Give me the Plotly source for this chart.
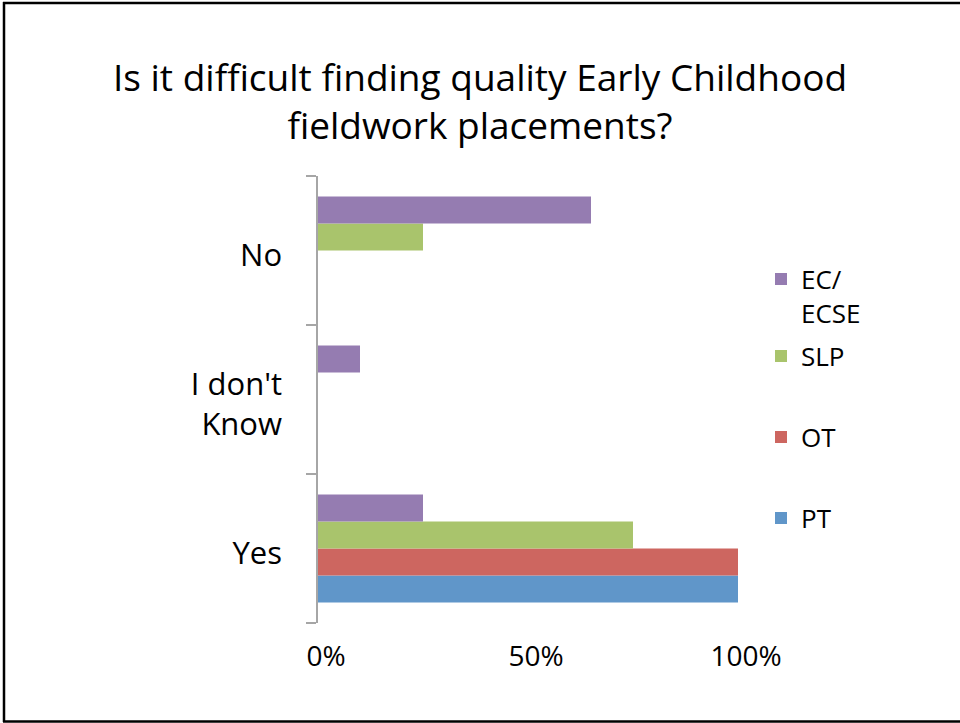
import plotly.graph_objects as go

categories = ["Yes", "I don't Know", "No"]
category_labels = ["Yes", "I don't<br>Know", "No"]
series_names = ["PT", "OT", "SLP", "EC/ECSE"]
legend_labels = ["PT", "OT", "SLP", "EC/<br>ECSE"]
pt_values = [100, 0, 0]
ot_values = [100, 0, 0]
slp_values = [75, 0, 25]
ec_values = [25, 10, 65]
x_tick_values = [0, 50, 100]
x_tick_labels = ["0%", "50%", "100%"]
title_text = "Is it difficult finding quality Early Childhood<br>fieldwork placements?"

colors = ["#6096C9", "#CD6660", "#A9C46C", "#957CB1"]
values = [pt_values, ot_values, slp_values, ec_values]
legend_ids = ["legend4", "legend3", "legend2", "legend"]

FONT = "Open Sans"
W, H = 960, 723
L, R, T, B = 318, 222, 176, 100
PW, PH = W - L - R, H - T - B

def px_to_xp(x):
    return (x - L) / PW

def px_to_yp(y):
    return 1 - (y - T) / PH

fig = go.Figure()
for name, lab, vals, col, lg in zip(series_names, legend_labels, values, colors, legend_ids):
    fig.add_trace(go.Bar(
        y=categories, x=vals, name=lab, orientation="h",
        marker=dict(color=col, line=dict(width=0)),
        legend=lg, hoverinfo="x+y+name",
    ))

legend_common = dict(
    font=dict(family=FONT, size=26, color="#000000"),
    bgcolor="rgba(0,0,0,0)", borderwidth=0,
    xanchor="left", x=px_to_xp(761), yanchor="middle", valign="top",
)

fig.update_layout(
    width=W, height=H,
    margin=dict(l=L, r=R, t=T, b=B, autoexpand=False),
    paper_bgcolor="white", plot_bgcolor="white",
    barmode="group", bargap=0.275, bargroupgap=0,
    showlegend=True,
    title=dict(text=title_text, x=0.5, xref="container", xanchor="center",
               y=1 - 91 / H, yref="container", yanchor="top",
               font=dict(family=FONT, size=37, color="#000000")),
    legend=dict(**legend_common, y=px_to_yp(296)),
    legend2=dict(**legend_common, y=px_to_yp(356)),
    legend3=dict(**legend_common, y=px_to_yp(437)),
    legend4=dict(**legend_common, y=px_to_yp(518)),
    xaxis=dict(range=[0, 100], tickvals=x_tick_values, ticktext=x_tick_labels,
               showgrid=False, zeroline=False, showline=False, ticks="",
               ticklabelshift=8, ticklabelstandoff=14,
               tickfont=dict(family=FONT, size=28, color="#000000"),
               fixedrange=True),
    yaxis=dict(categoryorder="array", categoryarray=categories,
               tickvals=categories, ticktext=category_labels,
               showgrid=False, zeroline=False,
               showline=True, linecolor="#A6A6A6", linewidth=1.5,
               ticks="outside", tickson="boundaries", ticklen=10,
               tickcolor="#A6A6A6", tickwidth=1.5,
               ticklabelstandoff=28, ticklabelshift=5,
               tickfont=dict(family=FONT, size=31, color="#000000"),
               fixedrange=True),
    shapes=[
        dict(type="line", xref="paper", yref="paper",
             x0=px_to_xp(4), x1=px_to_xp(4), y0=px_to_yp(2), y1=px_to_yp(722),
             line=dict(color="#000000", width=2.5)),
        dict(type="line", xref="paper", yref="paper",
             x0=px_to_xp(3), x1=px_to_xp(965), y0=px_to_yp(3), y1=px_to_yp(3),
             line=dict(color="#000000", width=2.5)),
        dict(type="line", xref="paper", yref="paper",
             x0=px_to_xp(3), x1=px_to_xp(965), y0=px_to_yp(721.5), y1=px_to_yp(721.5),
             line=dict(color="#000000", width=2.5)),
    ],
)

fig.write_html(
    "out.html",
    config={"displayModeBar": False},
    post_script="document.body.style.margin='0';document.body.style.overflow='hidden';",
)
